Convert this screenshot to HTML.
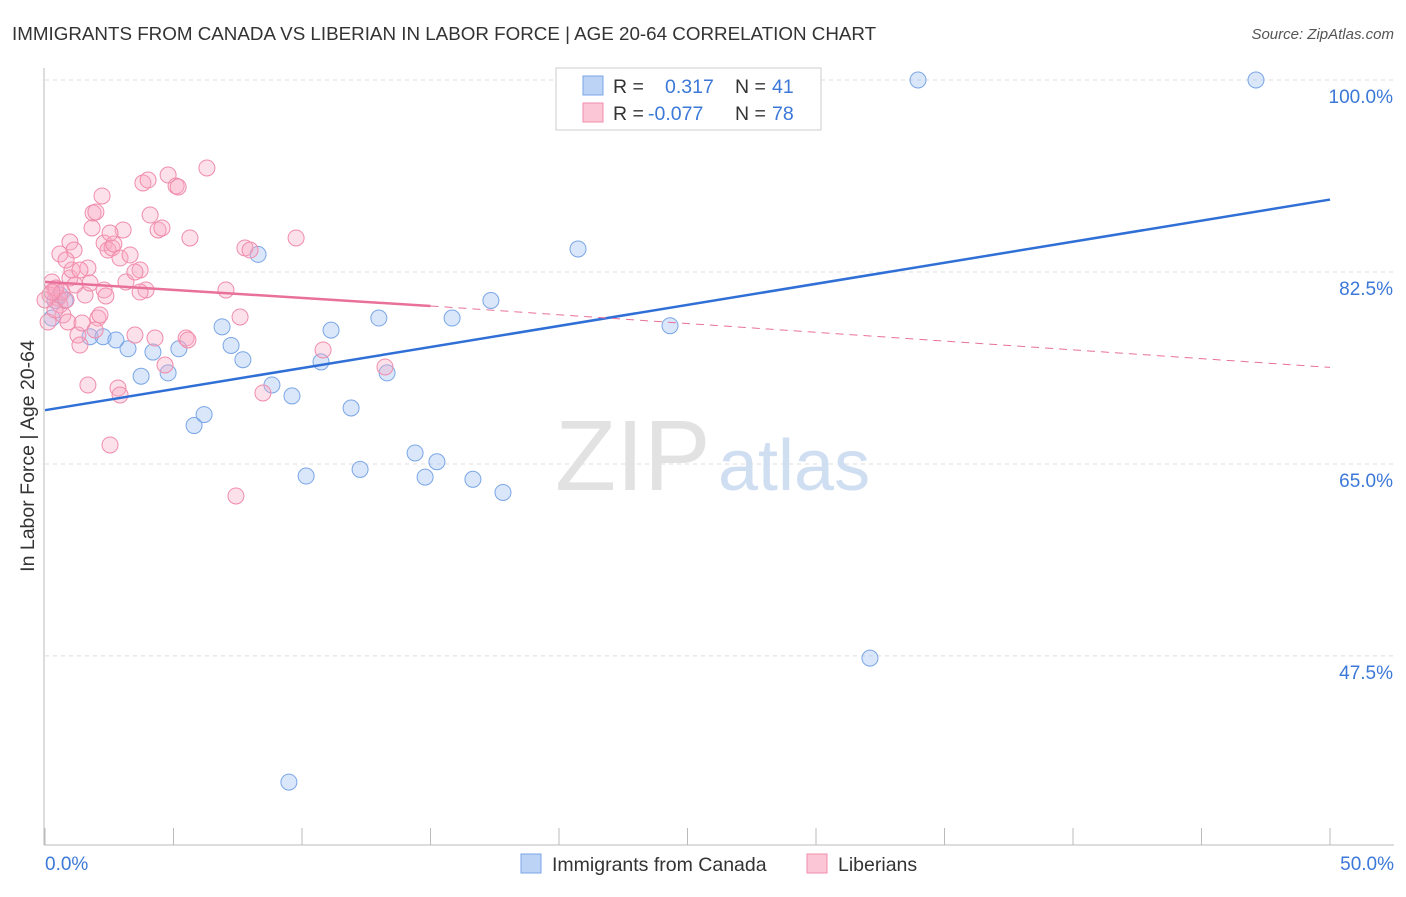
<!DOCTYPE html>
<html><head><meta charset="utf-8"><style>
body{margin:0;background:#fff;font-family:"Liberation Sans",sans-serif;}
svg text{font-family:"Liberation Sans",sans-serif;}
</style></head><body>
<svg width="1406" height="892">
<text x="12" y="40" font-size="18.8" fill="#333">IMMIGRANTS FROM CANADA VS LIBERIAN IN LABOR FORCE | AGE 20-64 CORRELATION CHART</text>
<text x="1394" y="39" font-size="15" fill="#555" text-anchor="end" font-style="italic">Source: ZipAtlas.com</text>
<g id="grid"></g>
<text x="555" y="490" font-size="100" fill="#e2e2e2" font-family="Liberation Serif">ZIP</text>
<text x="718" y="490" font-size="72" fill="#d0def2">atlas</text>
<g id="pts"></g>
<g id="lines"></g>
<line x1="44" y1="68" x2="44" y2="845" stroke="#bbb"/>
<line x1="44" y1="845" x2="1394" y2="845" stroke="#bbb"/>
<text x="34" y="456" font-size="19.5" fill="#333" text-anchor="middle" transform="rotate(-90 34 456)">In Labor Force | Age 20-64</text>
<text x="45" y="870" font-size="19" fill="#3b78d8">0.0%</text>
<text x="1394" y="870" font-size="19" fill="#3b78d8" text-anchor="end">50.0%</text>
<g>
<rect x="556" y="68" width="265" height="62" fill="#fff" stroke="#ccc"/>
<rect x="583" y="76" width="20" height="19" fill="#bcd3f5" stroke="#7aa6e6"/>
<rect x="583" y="103" width="20" height="19" fill="#fbc6d6" stroke="#f08cab"/>
<text x="613" y="93" font-size="19.5" fill="#333">R =</text><text x="665" y="93" font-size="19.5" fill="#3b78d8">0.317</text>
<text x="735" y="93" font-size="19.5" fill="#333">N =</text><text x="772" y="93" font-size="19.5" fill="#3b78d8">41</text>
<text x="613" y="120" font-size="19.5" fill="#333">R =</text><text x="648" y="120" font-size="19.5" fill="#3b78d8">-0.077</text>
<text x="735" y="120" font-size="19.5" fill="#333">N =</text><text x="772" y="120" font-size="19.5" fill="#3b78d8">78</text>
</g>
<g>
<rect x="521" y="854" width="20" height="19" fill="#bcd3f5" stroke="#7aa6e6"/>
<text x="552" y="871" font-size="19.5" fill="#333">Immigrants from Canada</text>
<rect x="807" y="854" width="20" height="19" fill="#fbc6d6" stroke="#f08cab"/>
<text x="838" y="871" font-size="19.5" fill="#333">Liberians</text>
</g>
</svg>
<script>
const yTicks=[100,82.5,65,47.5];
const yTickLabels=["100.0%","82.5%","65.0%","47.5%"];
const xTicks=[0,5,10,15,20,25,30,35,40,45,50];
const blueX=[0.27,0.78,1.75,2.26,2.76,3.23,3.74,4.2,4.79,5.21,5.8,6.19,6.89,7.24,7.7,8.29,8.83,9.61,10.16,10.74,11.13,11.91,12.26,12.99,13.31,14.4,14.79,15.25,15.84,16.65,17.35,17.82,20.74,24.32,26.19,32.1,33.97,47.12,9.49,0.58,0.39];
const blueY=[78.3,79.9,76.6,76.6,76.3,75.5,73,75.2,73.3,75.5,68.5,69.5,77.5,75.8,74.5,84.1,72.2,71.2,63.9,74.3,77.2,70.1,64.5,78.3,73.3,66,63.8,65.2,78.3,63.6,79.9,62.4,84.6,77.6,100.2,47.3,100,100,36.0,80.4,79.9];
const pinkPx=[[52,282],[55,290],[58,298],[60,305],[63,315],[48,322],[50,295],[56,288],[62,292],[66,300],[68,322],[70,278],[72,270],[70,242],[74,250],[78,335],[80,345],[82,323],[85,295],[88,268],[90,283],[92,228],[93,213],[96,212],[98,318],[100,315],[104,290],[106,296],[102,196],[104,243],[108,250],[110,445],[112,248],[114,244],[118,388],[120,258],[123,230],[126,282],[130,255],[135,335],[140,270],[143,183],[146,290],[148,180],[150,215],[155,338],[158,230],[162,228],[165,365],[168,175],[176,186],[178,187],[186,338],[188,340],[190,238],[207,168],[226,290],[236,496],[240,317],[245,248],[250,250],[263,393],[296,238],[323,350],[385,367],[88,385],[60,254],[55,310],[45,300],[52,292],[75,285],[80,270],[66,260],[110,233],[140,292],[95,330],[120,395],[135,272]];
const pinkX=pinkPx.map(p=>+((p[0]-45)/25.7).toFixed(2));
const pinkY=pinkPx.map(p=>+(100-(p[1]-80)/10.97).toFixed(2));
const blueLine=[[0,69.9],[50,89.1]];
const pinkLine=[[0,81.6],[15,79.4],[50,73.8]];
const X=v=>45+v*25.7, Y=v=>80+(100-v)*10.97;
const NS="http://www.w3.org/2000/svg";
function mk(t,a,p){const e=document.createElementNS(NS,t);for(const k in a)e.setAttribute(k,a[k]);p.appendChild(e);return e;}
const g=document.getElementById('grid');
yTicks.forEach((v,i)=>{
 const l=mk('line',{x1:45,x2:1394,y1:Y(v),y2:Y(v),stroke:'#ddd','stroke-dasharray':'4,4'},g);
 
 
 const t=mk('text',{x:1393,y:Y(v)+23,'font-size':19,fill:'#3b78d8','text-anchor':'end'},g);
 t.textContent=yTickLabels[i];
 
 
});
xTicks.forEach(v=>{
 const l=mk('line',{x1:X(v),x2:X(v),y1:828,y2:845,stroke:'#bbb'},g);
 
 
});
const pg=document.getElementById('pts');
blueX.forEach((x,i)=>{
 const c=mk('circle',{cx:X(x),cy:Y(blueY[i]),r:8,fill:'rgba(150,185,240,0.35)',stroke:'#7aa6e6','stroke-width':1},pg);
 
 
});
pinkX.forEach((x,i)=>{
 const c=mk('circle',{cx:X(x),cy:Y(pinkY[i]),r:8,fill:'rgba(248,170,195,0.35)',stroke:'#f08cab','stroke-width':1},pg);
 
 
});
const lg=document.getElementById('lines');
const bl=mk('line',{x1:X(blueLine[0][0]),y1:Y(blueLine[0][1]),x2:X(blueLine[1][0]),y2:Y(blueLine[1][1]),stroke:'#2f6fd6','stroke-width':2.5},lg);


const pl=mk('line',{x1:X(pinkLine[0][0]),y1:Y(pinkLine[0][1]),x2:X(pinkLine[1][0]),y2:Y(pinkLine[1][1]),stroke:'#e8709a','stroke-width':2.5},lg);


const pd=mk('line',{x1:X(pinkLine[1][0]),y1:Y(pinkLine[1][1]),x2:X(pinkLine[2][0]),y2:Y(pinkLine[2][1]),stroke:'#e8709a','stroke-width':1,'stroke-dasharray':'8,6'},lg);


</script>
</body></html>
